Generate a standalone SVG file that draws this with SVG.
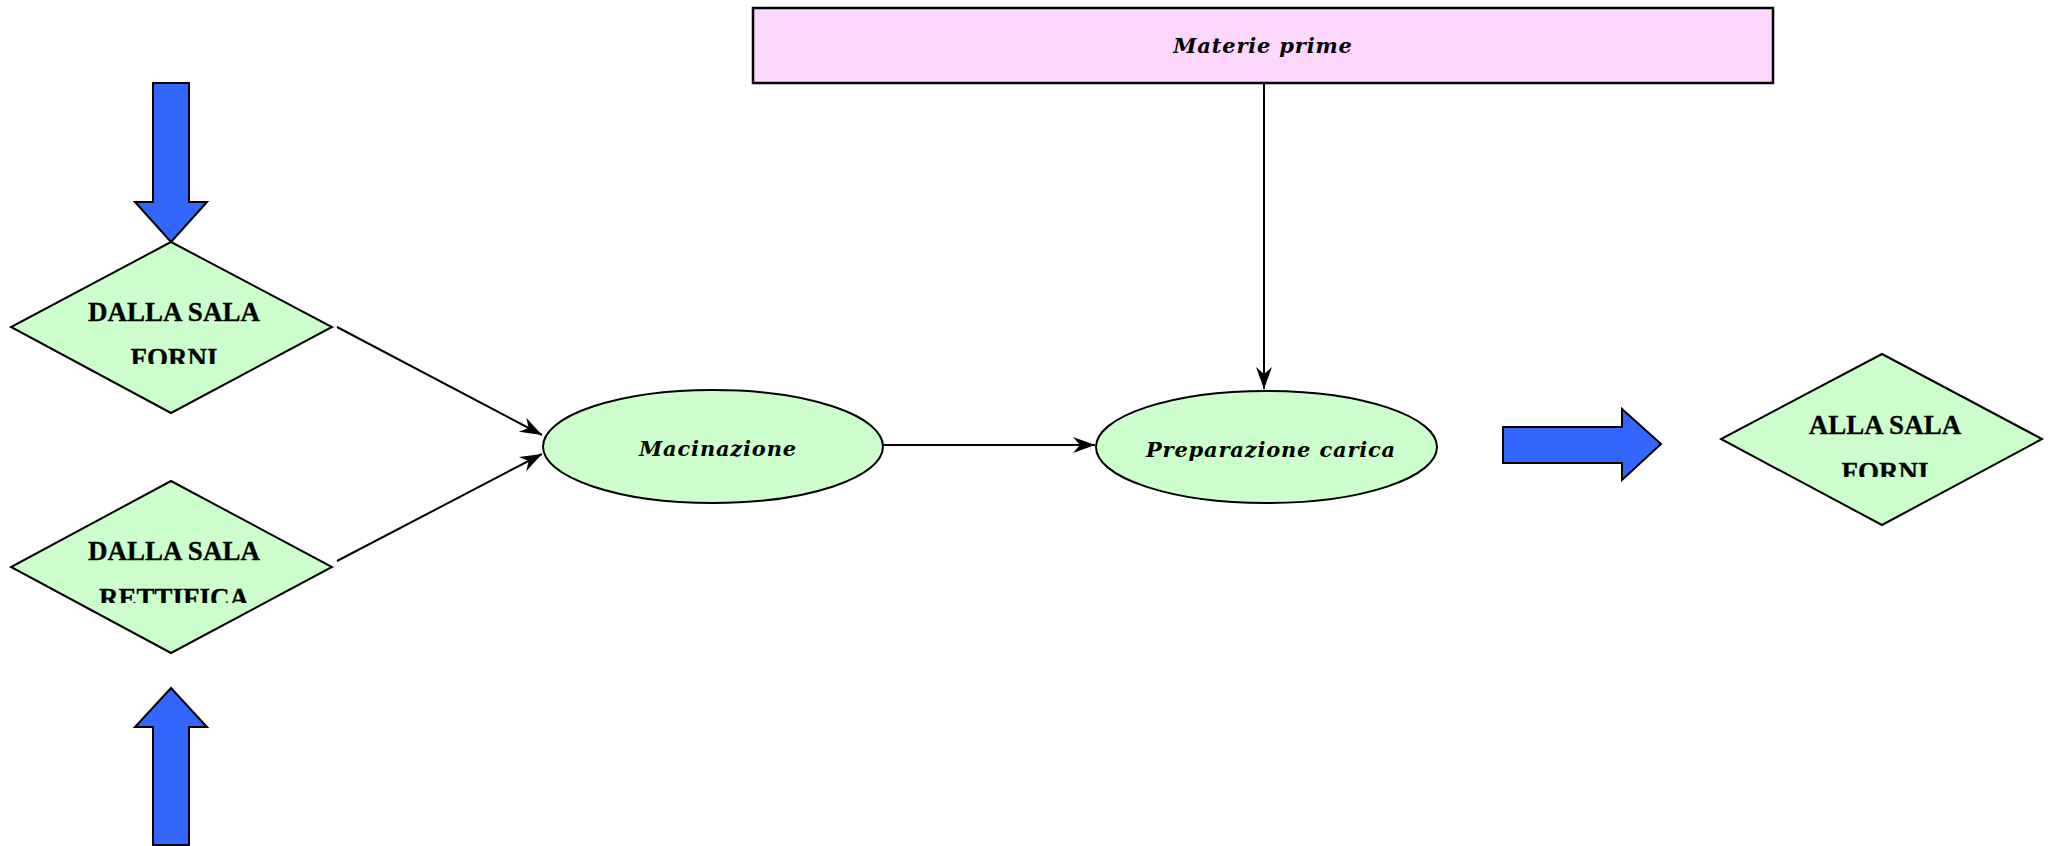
<svg xmlns="http://www.w3.org/2000/svg" width="2051" height="846" viewBox="0 0 2051 846">
  <style>
    .bg { fill: #ffffff; }
    .dia { fill: #ccffcc; stroke: #000000; stroke-width: 2; stroke-linejoin: miter; }
    .ell { fill: #ccffcc; stroke: #000000; stroke-width: 2; }
    .box { fill: #fdd7fe; stroke: #000000; stroke-width: 2.5; }
    .blk { fill: #3366ff; stroke: #000000; stroke-width: 2; stroke-linejoin: miter; }
    .conn { fill: none; stroke: #000000; stroke-width: 2; }
    .dtxt { font-family: "Liberation Serif", "Times New Roman", serif; font-weight: bold; font-size: 27px; fill: #000000; stroke: #000000; stroke-width: 0.3; text-anchor: middle; }
    .etxt { font-family: "DejaVu Serif", serif; font-weight: bold; font-style: italic; font-size: 21px; letter-spacing: 0.8px; fill: #000000; text-anchor: middle; }
  </style>
  <defs>
    <marker id="head" markerUnits="userSpaceOnUse" markerWidth="26" markerHeight="20" refX="23" refY="9" orient="auto" viewBox="0 0 26 18">
      <path d="M23,9 L1,1 L8,9 L1,17 Z" fill="#000000"/>
    </marker>
    <clipPath id="clipA"><rect x="0" y="290" width="360" height="74"/></clipPath>
    <clipPath id="clipB"><rect x="0" y="530" width="360" height="73"/></clipPath>
    <clipPath id="clipC"><rect x="1700" y="400" width="351" height="77"/></clipPath>
  </defs>

  <rect class="bg" x="0" y="0" width="2051" height="846"/>

  <!-- flow connectors -->
  <g id="connectors">
    <line class="conn" x1="337" y1="327" x2="542" y2="435" marker-end="url(#head)"/>
    <line class="conn" x1="337" y1="561" x2="542" y2="454" marker-end="url(#head)"/>
    <line class="conn" x1="883" y1="445" x2="1095" y2="445" marker-end="url(#head)"/>
    <line class="conn" x1="1264" y1="83" x2="1264" y2="389" marker-end="url(#head)"/>
  </g>

  <!-- block arrows -->
  <g id="arrow-in-top">
    <polygon class="blk" points="153,83 189,83 189,202 207,202 171,242 135,202 153,202"/>
  </g>
  <g id="arrow-in-bottom">
    <polygon class="blk" points="153,845 189,845 189,727 207,727 171,688 135,727 153,727"/>
  </g>
  <g id="arrow-out">
    <polygon class="blk" points="1503,427 1622,427 1622,409 1661,444 1622,480 1622,463 1503,463"/>
  </g>

  <!-- source: furnace room -->
  <g id="from-forni">
    <polygon class="dia" points="171,242 332,327 171,413 11,327"/>
    <g clip-path="url(#clipA)">
      <text class="dtxt" x="174" y="321">DALLA SALA</text>
      <text class="dtxt" x="174" y="367">FORNI</text>
    </g>
  </g>

  <!-- source: grinding room -->
  <g id="from-rettifica">
    <polygon class="dia" points="171,481 332,567 171,653 11,567"/>
    <g clip-path="url(#clipB)">
      <text class="dtxt" x="174" y="560">DALLA SALA</text>
      <text class="dtxt" x="174" y="607">RETTIFICA</text>
    </g>
  </g>

  <!-- destination: furnace room -->
  <g id="to-forni">
    <polygon class="dia" points="1882,354 2042,439 1882,525 1721,439"/>
    <g clip-path="url(#clipC)">
      <text class="dtxt" x="1885" y="434">ALLA SALA</text>
      <text class="dtxt" x="1885" y="481">FORNI</text>
    </g>
  </g>

  <!-- raw materials -->
  <g id="materie-prime">
    <rect class="box" x="753" y="8" width="1020" height="75"/>
    <text class="etxt" x="1263" y="53">Materie prime</text>
  </g>

  <!-- process steps -->
  <g id="macinazione">
    <ellipse class="ell" cx="713" cy="446.5" rx="170" ry="56.5"/>
    <text class="etxt" x="718" y="456">Macinazione</text>
  </g>
  <g id="preparazione-carica">
    <ellipse class="ell" cx="1266.5" cy="447" rx="170.5" ry="56"/>
    <text class="etxt" x="1271" y="457">Preparazione carica</text>
  </g>
</svg>
